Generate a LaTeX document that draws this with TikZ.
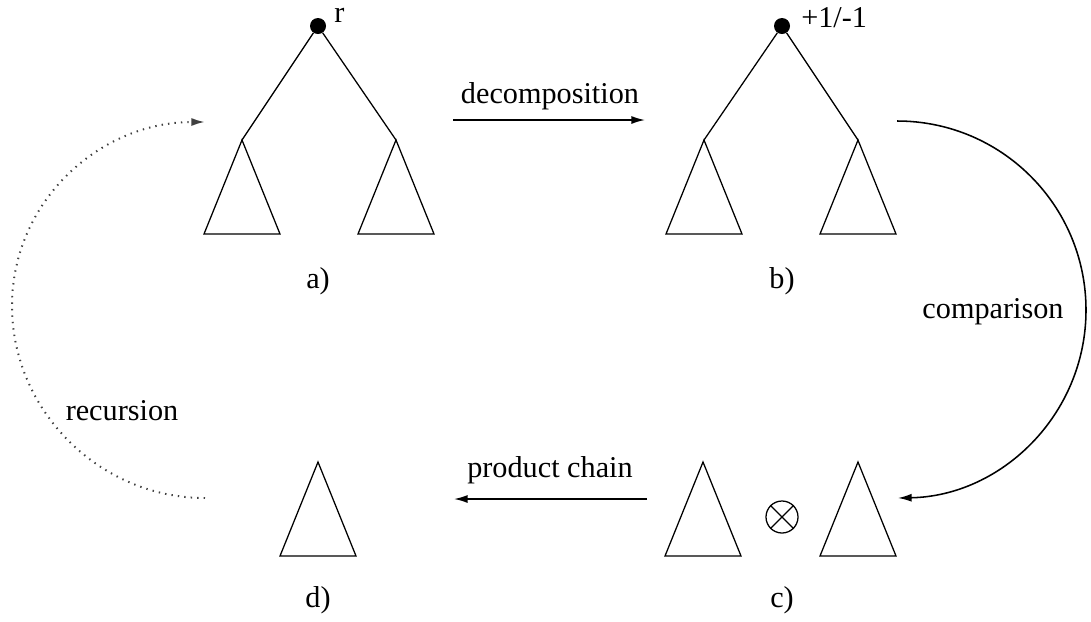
\documentclass[tikz,border=0pt]{standalone}
\usepackage{fontspec}
\setmainfont{Liberation Serif}
\usetikzlibrary{arrows.meta}
\tikzset{
  rootdot/.style={circle, fill=black, minimum size=0.4cm, inner sep=0pt},
  lbl/.style={font=\fontsize{21.5}{26}\selectfont, inner sep=0pt, anchor=base},
  edge/.style={line width=0.9pt},
  arrow/.style={-{Latex[length=3.4mm,width=2mm]}, line width=1.1pt},
  dotarrow/.style={-{Latex[length=3.4mm,width=2mm]}, line width=1.4pt, black!75, dash pattern=on 1pt off 3.6pt},
  prodsign/.style={circle, draw, line width=0.9pt, minimum size=0.8cm, inner sep=0pt},
  subtree/.pic={\draw[edge] (0,0) -- (-38,94) -- (38,94) -- cycle;}
}
\begin{document}
\begin{tikzpicture}[x={(0.025cm,0)}, y={(0,-0.025cm)}]
  \useasboundingbox (0,0) rectangle (1091,621);
  % a) tree with root r
  \node[rootdot] (ra) at (318,26) {};
  \node[lbl, anchor=base west] (rname) at (334,22) {r};
  \coordinate (al) at (242,140);
  \coordinate (ar) at (396,140);
  \draw[edge] (ra) -- (al) (ra) -- (ar);
  \pic at (al) {subtree};
  \pic at (ar) {subtree};
  \node[lbl] (la) at (318,288) {a)};
  % b) decomposed tree
  \node[rootdot] (rb) at (782,26) {};
  \node[lbl, anchor=base west] (rsign) at (801,27) {+1/-1};
  \coordinate (bl) at (704,140);
  \coordinate (br) at (858,140);
  \draw[edge] (rb) -- (bl) (rb) -- (br);
  \pic at (bl) {subtree};
  \pic at (br) {subtree};
  \node[lbl] (lb) at (782,288) {b)};
  % c) product of subtrees
  \coordinate (cl) at (703,462);
  \coordinate (cr) at (858,462);
  \pic at (cl) {subtree};
  \pic at (cr) {subtree};
  \node[prodsign] (ot) at (782,517) {};
  \draw[edge] (ot.north west) -- (ot.south east) (ot.north east) -- (ot.south west);
  \node[lbl] (lc) at (782,607) {c)};
  % d) result
  \coordinate (dt) at (318,462);
  \pic at (dt) {subtree};
  \node[lbl] (ld) at (318,607) {d)};
  % connectors
  \coordinate (decS) at (453,120);
  \coordinate (decE) at (645,120);
  \draw[arrow] (decS) -- (decE);
  \node[lbl] (decomp) at (550,103) {decomposition};
  \coordinate (cmpS) at (897,121);
  \coordinate (cmpE) at (898,498);
  \draw[arrow] (cmpS) .. controls (1002,121) and (1086,206) .. (1086,310)
    .. controls (1086,414) and (1002,496) .. (cmpE);
  \node[lbl] (compar) at (993,318) {comparison};
  \coordinate (pcS) at (647,499);
  \coordinate (pcE) at (454,499);
  \draw[arrow] (pcS) -- (pcE);
  \node[lbl] (prodch) at (550,477) {product chain};
  \coordinate (recS) at (205,498);
  \coordinate (recE) at (205,122);
  \draw[dotarrow] (recS) .. controls (99,498) and (12,410) .. (12,306)
    .. controls (12,202) and (99,122) .. (recE);
  \node[lbl] (recur) at (122,420) {recursion};
\end{tikzpicture}
\end{document}
